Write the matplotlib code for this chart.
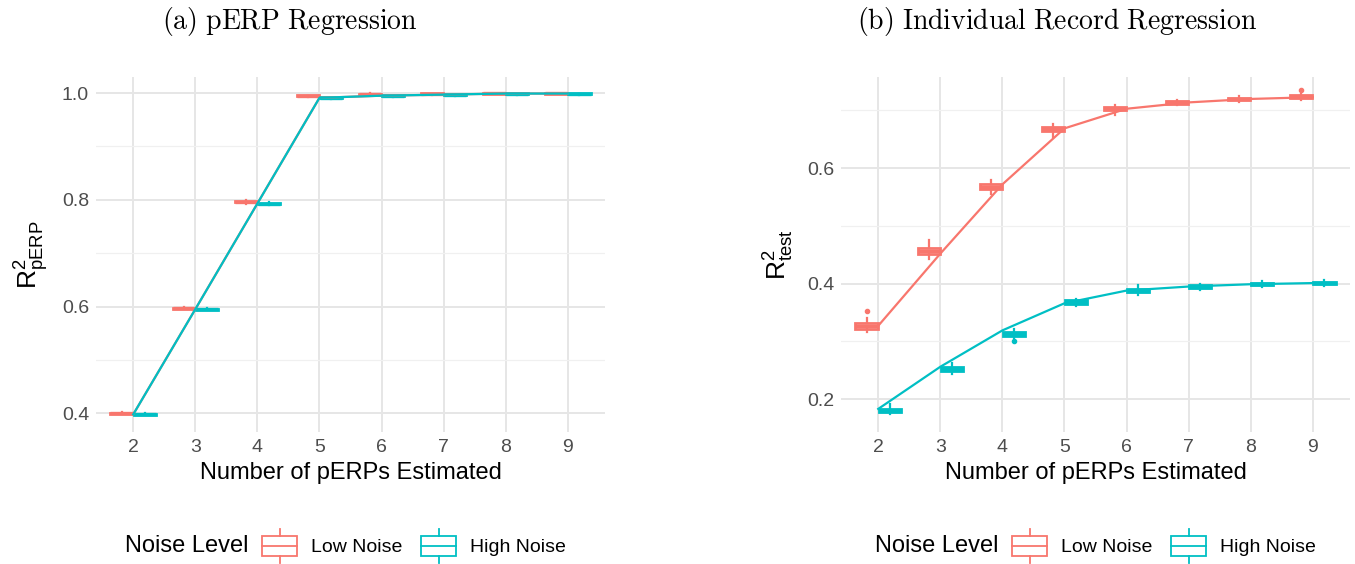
import matplotlib
matplotlib.use("Agg")
import matplotlib.pyplot as plt
from matplotlib.legend_handler import HandlerBase
from matplotlib.lines import Line2D
from matplotlib.patches import Rectangle

plt.rcParams['font.family'] = ['Liberation Sans', 'DejaVu Sans']

n_perps = [2, 3, 4, 5, 6, 7, 8, 9]
low_col = '#F8766D'
high_col = '#00BFC4'

# (a) pERP regression - box stats per number of pERPs
a_low_med = [0.400, 0.597, 0.796, 0.995, 0.998, 0.999, 1.000, 1.000]
a_low_q1 = [0.399, 0.596, 0.795, 0.994, 0.997, 0.998, 0.999, 0.999]
a_low_q3 = [0.401, 0.598, 0.797, 0.996, 0.999, 1.000, 1.000, 1.000]
a_low_wlo = [0.398, 0.595, 0.793, 0.992, 0.996, 0.997, 0.998, 0.999]
a_low_whi = [0.402, 0.599, 0.799, 0.997, 1.000, 1.000, 1.000, 1.000]
a_low_mean = [0.398, 0.595, 0.793, 0.991, 0.995, 0.997, 0.999, 0.999]

a_high_med = [0.398, 0.595, 0.793, 0.991, 0.995, 0.997, 0.999, 0.999]
a_high_q1 = [0.397, 0.594, 0.792, 0.990, 0.994, 0.996, 0.998, 0.998]
a_high_q3 = [0.399, 0.596, 0.794, 0.992, 0.996, 0.998, 1.000, 1.000]
a_high_wlo = [0.396, 0.593, 0.790, 0.989, 0.993, 0.995, 0.997, 0.997]
a_high_whi = [0.400, 0.597, 0.795, 0.993, 0.997, 0.999, 1.000, 1.000]
a_high_mean = [0.398, 0.595, 0.793, 0.991, 0.995, 0.997, 0.999, 0.999]

# (b) individual record regression
b_low_med = [0.327, 0.457, 0.568, 0.668, 0.703, 0.714, 0.720, 0.723]
b_low_q1 = [0.322, 0.451, 0.564, 0.664, 0.700, 0.712, 0.718, 0.721]
b_low_q3 = [0.332, 0.462, 0.572, 0.672, 0.706, 0.716, 0.722, 0.726]
b_low_wlo = [0.316, 0.443, 0.556, 0.654, 0.693, 0.709, 0.715, 0.718]
b_low_whi = [0.340, 0.476, 0.579, 0.676, 0.710, 0.719, 0.725, 0.729]
b_low_out = [[0.352], [], [], [], [], [], [], [0.735]]
b_low_mean = [0.327, 0.452, 0.572, 0.669, 0.703, 0.714, 0.720, 0.723]

b_high_med = [0.180, 0.252, 0.313, 0.368, 0.388, 0.395, 0.399, 0.401]
b_high_q1 = [0.178, 0.249, 0.310, 0.365, 0.386, 0.393, 0.397, 0.399]
b_high_q3 = [0.183, 0.255, 0.316, 0.371, 0.391, 0.397, 0.401, 0.403]
b_high_wlo = [0.174, 0.244, 0.306, 0.362, 0.381, 0.389, 0.394, 0.396]
b_high_whi = [0.191, 0.262, 0.322, 0.374, 0.398, 0.400, 0.404, 0.406]
b_high_out = [[], [], [0.301], [], [], [], [], []]
b_high_mean = [0.183, 0.256, 0.319, 0.366, 0.388, 0.395, 0.399, 0.401]


def make_stats(med, q1, q3, wlo, whi, out=None):
    stats = []
    for i in range(len(med)):
        stats.append(dict(med=med[i], q1=q1[i], q3=q3[i], whislo=wlo[i], whishi=whi[i],
                          fliers=out[i] if out else []))
    return stats


def draw_boxes(ax, stats, offset, color):
    pos = [x + offset for x in n_perps]
    ax.bxp(stats, positions=pos, widths=0.36, patch_artist=True, showcaps=False,
           boxprops=dict(facecolor='white', edgecolor=color, linewidth=2.0),
           medianprops=dict(color=color, linewidth=2.4),
           whiskerprops=dict(color=color, linewidth=1.6),
           flierprops=dict(marker='o', markersize=3, markerfacecolor=color,
                           markeredgecolor=color), zorder=3)


class BoxHandler(HandlerBase):
    def create_artists(self, legend, orig_handle, xdescent, ydescent, width, height, fontsize, trans):
        c = orig_handle.get_color()
        x0, y0 = -xdescent, -ydescent
        box = Rectangle((x0, y0), width, height, facecolor='white',
                        edgecolor=c, lw=1.3, transform=trans)
        med = Line2D([x0, x0 + width], [y0 + 0.5 * height] * 2, color=c, lw=1.3, transform=trans)
        wt = Line2D([x0 + width / 2] * 2, [y0 + height, y0 + 1.35 * height], color=c, lw=1.3, transform=trans)
        wb = Line2D([x0 + width / 2] * 2, [y0 - 0.35 * height, y0], color=c, lw=1.3, transform=trans)
        return [box, med, wt, wb]


def style_axes(ax, ylim, major, minor):
    ax.set_xlim(1.4, 9.6)
    ax.set_ylim(*ylim)
    ax.set_xticks(n_perps)
    ax.set_xticklabels([str(n) for n in n_perps])
    ax.set_yticks(major)
    ax.set_yticks(minor, minor=True)
    ax.set_yticklabels([f"{v:.1f}" for v in major])
    for s in ax.spines.values():
        s.set_visible(False)
    ax.tick_params(which='both', length=0, labelsize=14, labelcolor='#4D4D4D', pad=5)
    ax.grid(True, which='major', color='#E6E6E6', linewidth=1.4, zorder=0)
    ax.grid(True, which='minor', axis='y', color='#F0F0F0', linewidth=0.9, zorder=0)
    ax.set_axisbelow(True)
    ax.set_xlabel('Number of pERPs Estimated', fontsize=17, labelpad=4)


fig = plt.figure(figsize=(13.55, 5.64), dpi=100)
W, H = 1355, 564
ax1 = fig.add_axes([96 / W, 132 / H, 509 / W, 355 / H])
ax2 = fig.add_axes([841 / W, 132 / H, 509 / W, 355 / H])

# panel (a)
draw_boxes(ax1, make_stats(a_low_med, a_low_q1, a_low_q3, a_low_wlo, a_low_whi), -0.1875, low_col)
draw_boxes(ax1, make_stats(a_high_med, a_high_q1, a_high_q3, a_high_wlo, a_high_whi), 0.1875, high_col)
ax1.plot(n_perps, a_low_mean, color=low_col, lw=1.6, zorder=4)
ax1.plot(n_perps, a_high_mean, color=high_col, lw=1.6, zorder=4)
style_axes(ax1, (0.365, 1.03), [0.4, 0.6, 0.8, 1.0], [0.5, 0.7, 0.9])
ax1.set_ylabel(r'$\mathregular{R^{2}_{pERP}}$', fontsize=19, labelpad=8)

# panel (b)
draw_boxes(ax2, make_stats(b_low_med, b_low_q1, b_low_q3, b_low_wlo, b_low_whi, b_low_out), -0.1875, low_col)
draw_boxes(ax2, make_stats(b_high_med, b_high_q1, b_high_q3, b_high_wlo, b_high_whi, b_high_out), 0.1875, high_col)
ax2.plot(n_perps, b_low_mean, color=low_col, lw=1.6, zorder=4)
ax2.plot(n_perps, b_high_mean, color=high_col, lw=1.6, zorder=4)
style_axes(ax2, (0.143, 0.758), [0.2, 0.4, 0.6], [0.3, 0.5, 0.7])
ax2.set_ylabel(r'$\mathregular{R^{2}_{test}}$', fontsize=19, labelpad=8)

# subfigure captions
fig.text(290 / W, 1 - 22 / H, r'$\mathrm{(a)\ pERP\ Regression}$', math_fontfamily='cm',
         fontsize=20, ha='center', va='center')
fig.text(1057 / W, 1 - 22 / H, r'$\mathrm{(b)\ Individual\ Record\ Regression}$', math_fontfamily='cm',
         fontsize=20, ha='center', va='center')

# legends
handles = [Line2D([], [], color=low_col), Line2D([], [], color=high_col)]
labels = ['Low Noise', 'High Noise']
for tx, lx in [(125, 262), (875, 1012)]:
    fig.text(tx / W, 1 - 546 / H, 'Noise Level', fontsize=17, va='center', ha='left')
    fig.legend(handles, labels, loc='center left', bbox_to_anchor=(lx / W, 1 - 546 / H),
               ncol=2, frameon=False, fontsize=14, handler_map={Line2D: BoxHandler()},
               handlelength=1.8, handleheight=1.2, handletextpad=0.7, columnspacing=1.0,
               borderaxespad=0, borderpad=0)

fig.savefig('out.png', dpi=100)
